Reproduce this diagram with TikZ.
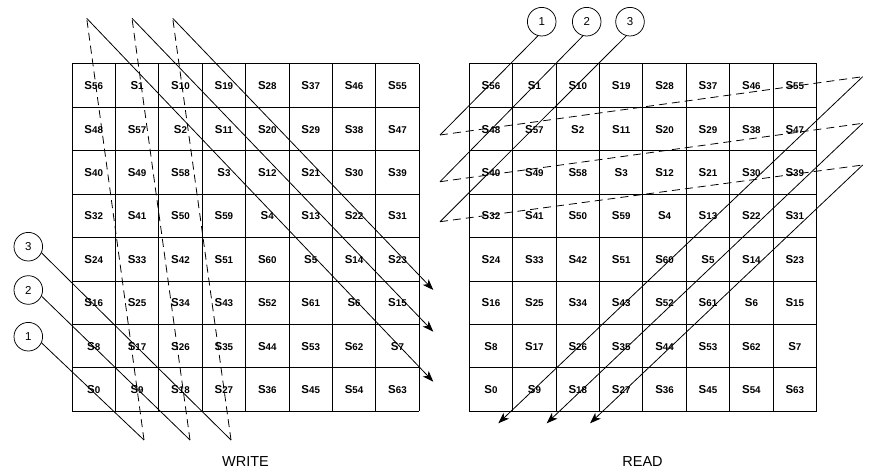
\documentclass[tikz,border=0pt]{standalone}
\usepackage{fontspec}
\setmainfont{Liberation Sans}
\usetikzlibrary{arrows.meta}
\newcommand\snum[1]{\textbf{\fontsize{11.5}{11.5}\selectfont S\fontsize{9.8}{9.8}\selectfont #1}}
\begin{document}
\begin{tikzpicture}[x=1pt,y=-1pt,
  cell/.style={minimum size=43.4pt, inner sep=0pt},
  gridline/.style={line width=1pt},
  circ/.style={draw, circle, minimum size=28.6pt, inner sep=0pt, line width=0.75pt, font=\fontsize{11.5}{11.5}\selectfont},
  solidline/.style={line width=0.8pt},
  dashline/.style={line width=0.8pt, dash pattern=on 8pt off 5pt},
  arrowline/.style={line width=0.8pt, -{Stealth[length=11pt,width=8pt,inset=3pt]}},
  caption/.style={font=\fontsize{14.5}{14.5}\selectfont}]
\useasboundingbox (0,0) rectangle (869,470);
% grid lines
\foreach \x in {72,469.3} {
  \foreach \k in {0,...,8} {
    \draw[gridline] ({\x+43.4*\k},64) -- ({\x+43.4*\k},{64+43.4*8});
    \draw[gridline] (\x,{64+43.4*\k}) -- ({\x+43.4*8},{64+43.4*\k});
  }
}
% cells
\foreach \r in {0,...,7} {
  \foreach \c in {0,...,7} {
    \pgfmathtruncatemacro\v{mod(9*\c+8*(7-\r),64)}
    \node[cell] (L-\r-\c) at ({72+43.4*\c+21.7},{64+43.4*\r+21.7}) {\snum{\v}};
    \node[cell] (R-\r-\c) at ({469.3+43.4*\c+21.7},{64+43.4*\r+21.7}) {\snum{\v}};
  }
}
% WRITE circles and path points
\node[circ] (w1) at (28.3,336.7) {1};
\node[circ] (w2) at (28.3,290) {2};
\node[circ] (w3) at (28.3,246.7) {3};
\coordinate (wb1) at (144,440);
\coordinate (wt1) at (86.7,18.3);
\coordinate (wa1) at (433.3,381.7);
\coordinate (wb2) at (190,440);
\coordinate (wt2) at (132,18.3);
\coordinate (wa2) at (433.3,331.7);
\coordinate (wb3) at (231,440);
\coordinate (wt3) at (172.7,18.3);
\coordinate (wa3) at (433.3,290);
\foreach \i in {1,2,3} {
  \draw[solidline] (w\i.-25) -- (wb\i);
  \draw[dashline] (wb\i) -- (wt\i);
  \draw[arrowline] (wt\i) -- (wa\i);
}
% READ circles and path points
\node[circ] (r1) at (541.7,21.7) {1};
\node[circ] (r2) at (586.7,21.7) {2};
\node[circ] (r3) at (630,21.7) {3};
\coordinate (rb1) at (440,135);
\coordinate (rt1) at (862.7,76.7);
\coordinate (ra1) at (498.3,423.3);
\coordinate (rb2) at (440,181.7);
\coordinate (rt2) at (862.7,123.3);
\coordinate (ra2) at (546.7,423.3);
\coordinate (rb3) at (440,221.7);
\coordinate (rt3) at (862.7,165);
\coordinate (ra3) at (590,423.3);
\foreach \i in {1,2,3} {
  \draw[solidline] (r\i.-105) -- (rb\i);
  \draw[dashline] (rb\i) -- (rt\i);
  \draw[arrowline] (rt\i) -- (ra\i);
}
% captions
\node[caption] (wlab) at (245.5,461.5) {WRITE};
\node[caption] (rlab) at (642.5,461.5) {READ};
\end{tikzpicture}
\end{document}
